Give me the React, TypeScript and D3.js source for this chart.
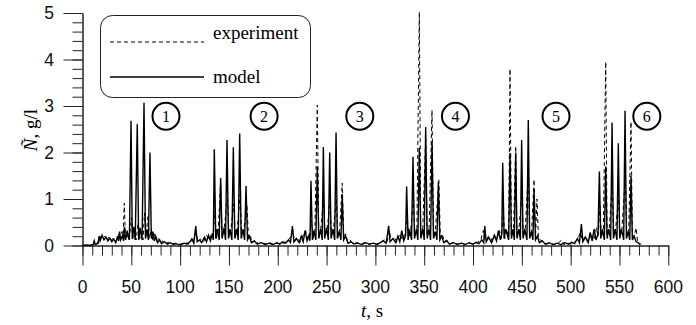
import React, { useRef, useEffect } from 'react';
import * as d3 from 'd3';

type Pt = [number, number];

// model (solid) — [t, N]
const model: Pt[] = [
  [0, 0], [4, 0.01], [8, 0], [11, 0.02], [12, 0.1], [13, 0.02], [16, 0.05], [17, 0.2], [18, 0.1], [20, 0.22],
  [22, 0.12], [24, 0.18], [26, 0.1], [28, 0.16], [30, 0.08], [32, 0.14], [34, 0.06], [36, 0.2], [37, 0.1], [38, 0.3],
  [39, 0.12], [41, 0.22],
  [42, 0.1], [43, 0.4], [44, 0.12], [46, 0.28], [48, 0.12], [49.7, 2.68], [51, 0.14], [52.5, 0.4], [54, 0.12], [56.1, 2.61],
  [57.5, 0.12], [59, 0.38], [61, 0.12], [63, 3.07], [64.5, 0.15], [66, 0.35], [67.5, 0.12], [69.1, 2.0], [70.5, 0.15], [72, 0.3],
  [73.5, 0.1], [75, 0.2], [77, 0.06], [79, 0.12], [81, 0.04],
  [84, 0.08], [87, 0.03], [90, 0.06], [93, 0.02], [96, 0.04], [100, 0.01], [104, 0.05], [107, 0.03], [110, 0.08], [112, 0.14],
  [114, 0.05], [116, 0.42], [117.5, 0.08], [120, 0.12], [122, 0.06], [125, 0.18], [127, 0.08], [129, 0.22], [131, 0.1], [133, 0.25],
  [134, 0.12], [135, 2.07], [136.5, 0.15], [138, 0.35], [140, 0.12], [141.5, 1.45], [143, 0.15], [145, 0.38], [146.5, 0.12], [148, 2.27],
  [149.5, 0.15], [151, 0.35], [153, 0.12], [154.5, 2.11], [156, 0.15], [158, 0.35], [159.5, 0.12], [161, 2.41], [162.5, 0.15], [164.5, 0.35],
  [166, 0.12], [167.5, 1.28], [169, 0.12], [171, 0.2], [173, 0.06], [176, 0.1], [179, 0.03],
  [183, 0.06], [187, 0.02], [191, 0.05], [195, 0.02], [199, 0.06], [202, 0.03], [205, 0.08], [208, 0.05], [211, 0.12], [213, 0.06],
  [215, 0.42], [216.5, 0.08], [219, 0.15], [222, 0.06], [224, 0.2], [226, 0.08], [228, 0.32], [230, 0.1], [232, 0.22],
  [233, 0.1], [234, 1.39], [235.5, 0.12], [237, 0.32], [239, 0.12], [240.5, 1.7], [242, 0.15], [244, 0.35], [245.5, 0.12], [246.7, 2.12],
  [248, 0.15], [250, 0.38], [251.8, 0.12], [253.2, 2.0], [254.6, 0.15], [256.5, 0.35], [258.3, 0.12], [259.7, 2.43], [261, 0.15], [263, 0.3],
  [264.7, 0.12], [266, 1.1], [267.5, 0.12], [269.5, 0.2], [272, 0.05], [275, 0.08], [278, 0.03],
  [282, 0.05], [286, 0.02], [290, 0.06], [294, 0.03], [298, 0.05], [302, 0.02], [305, 0.06], [308, 0.1], [311, 0.05], [313.6, 0.42],
  [315, 0.08], [318, 0.15], [321, 0.06], [323, 0.2], [325, 0.08], [327, 0.32], [329, 0.1], [331, 0.22],
  [332, 1.27], [333.5, 0.12], [335, 0.35], [337, 0.12], [338.5, 1.91], [340, 0.15], [342, 0.35], [343.5, 0.12], [345, 2.1], [346.5, 0.15],
  [348.5, 0.35], [350, 0.12], [351.5, 2.55], [353, 0.15], [355, 0.35], [356.5, 0.12], [358, 2.23], [359.5, 0.15], [361.5, 0.3], [363, 0.12],
  [364.5, 1.37], [366, 0.12], [368, 0.2], [370, 0.06], [373, 0.1], [376, 0.03],
  [380, 0.06], [384, 0.02], [388, 0.05], [392, 0.02], [396, 0.06], [400, 0.03], [403, 0.07], [406, 0.04], [409, 0.12], [411, 0.06],
  [412, 0.42], [413.5, 0.08], [416, 0.18], [419, 0.06], [422, 0.22], [424, 0.1], [426, 0.32], [428, 0.12], [429.5, 0.25],
  [430.4, 1.78], [431.8, 0.15], [433.5, 0.35], [436.5, 0.12], [437.9, 1.99], [439.3, 0.15], [441, 0.35], [442.3, 0.12], [443.7, 2.0], [445, 0.15],
  [447, 0.35], [448.5, 0.12], [449.8, 2.27], [451.2, 0.15], [453, 0.35], [455.2, 0.12], [456.6, 2.7], [458, 0.15], [460, 0.3], [461.3, 0.12],
  [462.5, 1.2], [464, 0.12], [466, 0.2], [468, 0.06], [471, 0.1], [474, 0.03],
  [478, 0.06], [482, 0.02], [486, 0.05], [490, 0.02], [494, 0.06], [498, 0.03], [501, 0.07], [504, 0.04], [507, 0.15], [509, 0.06],
  [511, 0.46], [512.5, 0.08], [515, 0.18], [518, 0.06], [520, 0.28], [522, 0.1], [524, 0.35], [526, 0.12], [528, 0.25],
  [529.4, 1.59], [530.8, 0.15], [532.5, 0.35], [534.5, 0.12], [535.9, 1.7], [537.3, 0.15], [539, 0.35], [541, 0.12], [542.4, 2.64], [543.8, 0.15],
  [545.5, 0.35], [547.4, 0.12], [548.8, 2.2], [550.2, 0.15], [552, 0.35], [554.3, 0.12], [555.7, 2.9], [557.1, 0.15], [559, 0.3], [560.5, 0.12],
  [561.8, 1.5], [563.2, 0.12], [565, 0.2], [567, 0.08], [569, 0.06], [571, 0.02],
];

// experiment (dashed) — [t, N]
const experiment: Pt[] = [
  [0, 0], [5, 0], [9, 0.01], [12, 0.03], [14, 0.02], [17, 0.12], [19, 0.2], [21, 0.15], [23, 0.2], [25, 0.12],
  [27, 0.18], [29, 0.1], [31, 0.15], [33, 0.08], [35, 0.12], [37, 0.25], [39, 0.12], [40.5, 0.3], [41.5, 0.15],
  [42.8, 0.91], [44, 0.15], [45.5, 0.32], [47, 0.12], [48.5, 0.25], [50, 0.6], [51.5, 0.15], [53, 0.3], [55, 0.12], [57, 0.5],
  [58.5, 0.15], [60, 0.28], [62, 0.12], [63.5, 0.7], [65, 0.18], [67, 0.62], [68.5, 0.15], [70.5, 0.35], [72, 0.12], [74, 0.25],
  [76, 0.08], [78, 0.15], [80, 0.05], [82, 0.1],
  [85, 0.04], [88, 0.07], [91, 0.03], [95, 0.05], [98, 0.02], [102, 0.04], [106, 0.06], [109, 0.03], [112, 0.1], [115, 0.18],
  [116.5, 0.28], [118, 0.08], [121, 0.14], [124, 0.08], [127, 0.22], [130, 0.12], [132.5, 0.28],
  [134, 0.2], [135.5, 0.75], [137, 0.15], [139, 0.3], [141.5, 1.4], [143, 0.18], [145, 0.35], [148.5, 1.0], [150, 0.18], [152, 0.35],
  [155, 0.9], [156.5, 0.18], [158.5, 0.35], [161.5, 1.1], [163, 0.18], [165, 0.3], [168.5, 0.85], [170, 0.15], [172, 0.2], [174, 0.06],
  [177, 0.12], [180, 0.04],
  [184, 0.06], [188, 0.03], [192, 0.06], [196, 0.02], [200, 0.05], [204, 0.03], [207, 0.06], [210, 0.1], [213, 0.18], [215.5, 0.32],
  [217, 0.08], [220, 0.16], [223, 0.08], [226, 0.22], [228.5, 0.32], [231, 0.12],
  [233, 0.22], [234.5, 0.55], [236, 0.15], [238, 0.3], [240.5, 3.02], [242, 0.2], [244, 0.35], [247, 1.0], [248.5, 0.18], [250.5, 0.35],
  [253.5, 0.9], [255, 0.18], [257, 0.35], [260, 1.0], [261.5, 0.18], [263.5, 0.35], [266, 1.34], [267.5, 0.18], [269.5, 0.25], [271.5, 0.08],
  [274, 0.12], [277, 0.04],
  [281, 0.06], [285, 0.03], [289, 0.06], [293, 0.02], [297, 0.05], [301, 0.03], [305, 0.07], [309, 0.12], [312, 0.08], [314.5, 0.32],
  [316, 0.1], [319, 0.18], [322, 0.08], [325, 0.25], [328, 0.12], [330.5, 0.3],
  [332.5, 0.65], [334, 0.15], [336, 0.3], [339, 1.0], [340.5, 0.18], [342.5, 0.35], [345, 5.02], [346.5, 0.2], [348.5, 0.38], [351.5, 2.3],
  [353, 0.2], [355, 0.35], [358, 2.91], [359.5, 0.2], [361.5, 0.35], [365, 1.41], [366.5, 0.18], [368.5, 0.25], [370.5, 0.08], [373, 0.12],
  [376, 0.04],
  [380, 0.06], [384, 0.03], [388, 0.06], [392, 0.02], [396, 0.05], [400, 0.03], [404, 0.06], [408, 0.12], [410.5, 0.32], [412, 0.12],
  [415, 0.18], [418, 0.08], [421, 0.22], [424, 0.12], [427, 0.32], [429, 0.15],
  [431, 0.75], [432.5, 0.15], [434.5, 0.35], [436.5, 0.18], [437.9, 3.8], [439.3, 0.2], [441.5, 0.35], [443.7, 2.14], [445, 0.2], [447, 0.35],
  [450, 1.1], [451.5, 0.18], [453.5, 0.35], [456.6, 1.6], [458, 0.2], [460, 0.3], [462.5, 1.42], [464, 0.2], [465.5, 1.0], [467, 0.15],
  [469, 0.12], [472, 0.08], [475, 0.03],
  [479, 0.05], [483, 0.02], [487, 0.05], [491, 0.12], [493, 0.02], [497, 0.05], [501, 0.03], [504, 0.08], [507, 0.12], [510, 0.28],
  [512, 0.1], [515, 0.2], [518, 0.08], [521, 0.25], [524, 0.12], [526.5, 0.38], [528, 0.18],
  [530, 0.85], [531.5, 0.18], [533.5, 0.35], [535.9, 3.95], [537.3, 0.2], [539.5, 0.35], [542.4, 1.3], [544, 0.2], [546, 0.35], [549, 1.0],
  [550.5, 0.2], [552.5, 0.35], [556, 1.5], [557.5, 0.2], [559.5, 0.35], [561.8, 2.66], [563.2, 0.2], [565, 0.2], [567, 0.38], [568.5, 0.1],
  [570, 0.08], [572, 0.02],
];

const xTicks = [0, 50, 100, 150, 200, 250, 300, 350, 400, 450, 500, 550, 600];
const yTicks = [0, 1, 2, 3, 4, 5];
const cycleLabels = ['1', '2', '3', '4', '5', '6'];
const cycleT = [85.5, 186, 284, 382, 485, 578];
const cycleN = 2.78;
const legendItems = [
  { label: 'experiment', dash: '4,3' },
  { label: 'model', dash: null as string | null },
];

const W = 696;
const H = 325;

const App: React.FC = () => {
  const svgRef = useRef<SVGSVGElement>(null);

  useEffect(() => {
    if (!svgRef.current) return;
    const svg = d3.select(svgRef.current);
    svg.selectAll('*').remove();

    const x = d3.scaleLinear().domain([0, 600]).range([82.5, 668.3]);
    const y = d3.scaleLinear().domain([0, 5]).range([245.5, 13]);
    const axisColor = '#222';

    // x axis: minor + major ticks, labels drawn separately
    const xMinor = svg.append('g').attr('transform', `translate(0,${y(0)})`)
      .call(d3.axisBottom(x).tickValues(d3.range(0, 601, 10)).tickSize(10).tickSizeOuter(0).tickFormat(() => ''));
    const xMajor = svg.append('g').attr('transform', `translate(0,${y(0)})`)
      .call(d3.axisBottom(x).tickValues(xTicks).tickSize(20).tickSizeOuter(0).tickFormat(() => ''));
    const yMinor = svg.append('g').attr('transform', `translate(${x(0)},0)`)
      .call(d3.axisLeft(y).tickValues(d3.range(0, 5.01, 0.2)).tickSize(10).tickSizeOuter(0).tickFormat(() => ''));
    const yMajor = svg.append('g').attr('transform', `translate(${x(0)},0)`)
      .call(d3.axisLeft(y).tickValues(yTicks).tickSize(19).tickSizeOuter(0).tickFormat(() => ''));
    [xMinor, xMajor, yMinor, yMajor].forEach(a => {
      a.selectAll('path, line').attr('stroke', axisColor).attr('stroke-width', 1);
    });

    svg.selectAll('.xlab').data(xTicks).enter().append('text')
      .attr('x', d => x(d)).attr('y', 293)
      .attr('text-anchor', 'middle')
      .attr('font-family', '"Liberation Sans", Arial, sans-serif')
      .attr('font-size', '17.5px').attr('fill', '#111')
      .text(d => d);

    svg.selectAll('.ylab').data(yTicks).enter().append('text')
      .attr('x', 54).attr('y', d => y(d) + 6)
      .attr('text-anchor', 'end')
      .attr('font-family', '"Liberation Sans", Arial, sans-serif')
      .attr('font-size', '17.5px').attr('fill', '#111')
      .text(d => d);

    // series
    const line = d3.line<Pt>().x(d => x(d[0])).y(d => y(d[1]));

    svg.append('path').datum(experiment).attr('d', line)
      .attr('fill', 'none').attr('stroke', '#000').attr('stroke-width', 1)
      .attr('stroke-dasharray', '4,3');

    svg.append('path').datum(model).attr('d', line)
      .attr('fill', 'none').attr('stroke', '#000').attr('stroke-width', 1.4)
      .attr('stroke-linejoin', 'miter');

    // cycle markers
    cycleLabels.forEach((lab, i) => {
      svg.append('circle')
        .attr('cx', x(cycleT[i])).attr('cy', y(cycleN)).attr('r', 13.5)
        .attr('fill', '#fff').attr('stroke', '#000').attr('stroke-width', 2);
      svg.append('text')
        .attr('x', x(cycleT[i])).attr('y', y(cycleN) + 5.5)
        .attr('text-anchor', 'middle')
        .attr('font-family', '"Liberation Serif", "Times New Roman", serif')
        .attr('font-size', '16px').attr('fill', '#000')
        .text(lab);
    });

    // legend
    svg.append('rect')
      .attr('x', 100.5).attr('y', 15.5).attr('width', 210).attr('height', 82)
      .attr('rx', 12).attr('fill', '#fff').attr('stroke', '#222').attr('stroke-width', 1);

    const legendY = [42, 77];
    const legendTextY = [38.5, 83];
    legendItems.forEach((item, i) => {
      const l = svg.append('line')
        .attr('x1', 110).attr('x2', 204).attr('y1', legendY[i]).attr('y2', legendY[i])
        .attr('stroke', '#000').attr('stroke-width', item.dash ? 1 : 1.4);
      if (item.dash) l.attr('stroke-dasharray', item.dash);
      svg.append('text')
        .attr('x', 213).attr('y', legendTextY[i])
        .attr('font-family', '"Liberation Serif", "Times New Roman", serif')
        .attr('font-size', '19px').attr('fill', '#000')
        .text(item.label);
    });

    // axis titles
    const xt = svg.append('text')
      .attr('x', 372).attr('y', 317)
      .attr('text-anchor', 'middle')
      .attr('font-family', '"Liberation Serif", "Times New Roman", serif')
      .attr('font-size', '19px').attr('fill', '#000');
    xt.append('tspan').attr('font-style', 'italic').text('t');
    xt.append('tspan').text(', s');

    const yt = svg.append('text')
      .attr('transform', 'translate(37,130) rotate(-90)')
      .attr('text-anchor', 'middle')
      .attr('font-family', '"Liberation Serif", "Times New Roman", serif')
      .attr('font-size', '19px').attr('fill', '#000');
    yt.append('tspan').attr('font-style', 'italic').text('Ñ');
    yt.append('tspan').text(', g/l');
  }, []);

  return (
    <svg ref={svgRef} width={W} height={H}
      style={{ position: 'absolute', left: 0, top: 0, background: '#fff' }} />
  );
};

export default App;
